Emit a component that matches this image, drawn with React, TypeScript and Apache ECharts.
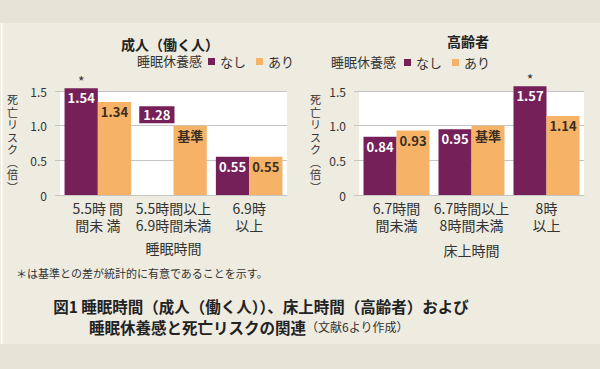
import React, { useEffect, useRef } from "react";
import * as echarts from "echarts";

// ---- data ----
const adultCategories = ["5.5時 間\n間未 満", "5.5時間以上\n6.9時間未満", "6.9時\n以上"];
const elderlyCategories = ["6.7時間\n間未満", "6.7時間以上\n8時間未満", "8時\n以上"];
const seriesNames = ["なし", "あり"];
const adultNashi = [1.54, 1.28, 0.55];
const adultAri = [1.34, 1.0, 0.55];
const elderlyNashi = [0.84, 0.95, 1.57];
const elderlyAri = [0.93, 1.0, 1.14];
const adultNashiBarHidden = [false, true, false];
const adultSignificant = [true, false, false];
const elderlySignificant = [false, false, true];
const referenceIndex = 1; // 「あり」 of the middle group is the reference (基準)
const yMax = 1.5;
const yInterval = 0.5;

const PURPLE = "#76205a";
const ORANGE = "#f6b266";
const FONT = "'Noto Sans CJK JP', 'Noto Sans', sans-serif";
const TEXT = "#333333";
const GRID_LINE = "#c4c4c4";

function makeAxes(idx: number, cats: string[], name: string, left: number, width: number, nameGap: number) {
  const grid = {
    left,
    width,
    top: 91,
    height: 104,
    show: true,
    backgroundColor: "#ffffff",
    borderWidth: 0,
  };
  const xAxis = {
    type: "category",
    gridIndex: idx,
    data: cats,
    name,
    nameLocation: "middle",
    nameGap,
    nameTextStyle: { fontSize: 14, color: TEXT, fontFamily: FONT },
    axisLine: { lineStyle: { color: GRID_LINE } },
    axisTick: { show: false },
    axisLabel: { interval: 0, fontSize: 14, lineHeight: 17, color: TEXT, margin: 4, fontFamily: FONT },
  };
  const yAxis = {
    type: "value",
    gridIndex: idx,
    min: 0,
    max: yMax,
    interval: yInterval,
    name: "死\n亡\nリ\nス\nク\n︵\n倍\n︶",
    nameLocation: "middle",
    nameRotate: 0,
    nameGap: idx === 0 ? 42 : 38,
    nameTextStyle: { fontSize: 11, lineHeight: 12.5, color: TEXT, fontFamily: FONT },
    axisLine: { show: false },
    axisTick: { show: true, length: 5, lineStyle: { color: GRID_LINE } },
    axisLabel: {
      fontSize: 12,
      color: TEXT,
      margin: 13,
      fontFamily: FONT,
      formatter: (v: number) => (v === 0 ? "0" : v.toFixed(1)),
    },
    splitLine: { lineStyle: { color: GRID_LINE } },
  };
  return { grid, xAxis, yAxis };
}

function valueLabel(color: string) {
  return {
    show: true,
    position: "insideTop",
    distance: 3,
    color,
    fontSize: 13,
    fontWeight: "bold",
    fontFamily: FONT,
    formatter: (p: any) => Number(p.value).toFixed(2),
  };
}

function barSeries(idx: number, nashi: number[], ari: number[], sig: boolean[], hidden: boolean[]) {
  const stack = "s" + idx;
  const common = {
    type: "bar",
    xAxisIndex: idx,
    yAxisIndex: idx,
    barGap: "0%",
    barCategoryGap: "12%",
    clip: false,
  };
  return [
    {
      ...common,
      name: seriesNames[0],
      stack,
      itemStyle: { color: PURPLE },
      label: valueLabel("#ffffff"),
      data: nashi.map((v, i) =>
        hidden[i]
          ? {
              value: v,
              itemStyle: { color: "rgba(0,0,0,0)" },
              label: { backgroundColor: PURPLE, padding: [2, 4], distance: 0 },
            }
          : v
      ),
    },
    {
      ...common,
      name: "有意",
      stack,
      itemStyle: { color: PURPLE },
      label: {
        show: true,
        position: "top",
        distance: 0,
        color: TEXT,
        fontSize: 14,
        fontFamily: FONT,
        formatter: "*",
      },
      data: sig.map((s) => (s ? 0 : "-")),
    },
    {
      ...common,
      name: seriesNames[1],
      itemStyle: { color: ORANGE },
      label: valueLabel("#3a2e22"),
      data: ari.map((v, i) =>
        i === referenceIndex ? { value: v, label: { formatter: "基準" } } : v
      ),
    },
  ];
}

export default function App() {
  const ref = useRef<HTMLDivElement>(null);
  useEffect(() => {
    if (!ref.current) return;
    const chart = echarts.init(ref.current, null, { renderer: "svg" });
    const a = makeAxes(0, adultCategories, "睡眠時間", 60, 227, 46);
    const e = makeAxes(1, elderlyCategories, "床上時間", 359, 225, 48);
    const legendCommon = {
      data: seriesNames,
      icon: "rect",
      itemWidth: 7,
      itemHeight: 7,
      itemGap: 10,
      padding: 0,
      top: 55,
      textStyle: { fontSize: 13, color: TEXT, fontFamily: FONT },
    };
    chart.setOption({
      animation: false,
      backgroundColor: "#eeebe1",
      textStyle: { fontFamily: FONT },
      title: [
        { text: "成人（働く人）", left: 170, textAlign: "center", top: 37, padding: 0,
          textStyle: { fontSize: 14, fontWeight: "bold", color: "#222", fontFamily: FONT } },
        { text: "高齢者", left: 468, textAlign: "center", top: 34, padding: 0,
          textStyle: { fontSize: 14, fontWeight: "bold", color: "#222", fontFamily: FONT } },
        { text: "睡眠休養感", left: 137, top: 54, padding: 0,
          textStyle: { fontSize: 13, fontWeight: "normal", color: TEXT, fontFamily: FONT } },
        { text: "睡眠休養感", left: 331, top: 55, padding: 0,
          textStyle: { fontSize: 13, fontWeight: "normal", color: TEXT, fontFamily: FONT } },
        { text: "＊は基準との差が統計的に有意であることを示す。", left: 16, top: 267, padding: 0,
          textStyle: { fontSize: 11, fontWeight: "normal", color: TEXT, fontFamily: FONT } },
        { text: "図1 睡眠時間（成人（働く人））、床上時間（高齢者）および", left: 261, textAlign: "center", top: 298, padding: 0,
          textStyle: { fontSize: 15.5, fontWeight: "bold", color: "#222", fontFamily: FONT } },
        {
          text: "{b|睡眠休養感と死亡リスクの関連}{n|（文献6より作成）}",
          left: 89,
          top: 319,
          padding: 0,
          textStyle: {
            fontFamily: FONT,
            rich: {
              b: { fontSize: 15.5, fontWeight: "bold", color: "#222", fontFamily: FONT },
              n: { fontSize: 12, fontWeight: "normal", color: TEXT, fontFamily: FONT },
            },
          },
        },
      ],
      legend: [
        { ...legendCommon, left: 208 },
        { ...legendCommon, left: 404, top: 56 },
      ],
      graphic: [
        { type: "rect", shape: { x: 0, y: 0, width: 600, height: 23 }, style: { fill: "#e7e3d6" }, silent: true },
        { type: "rect", shape: { x: 0, y: 344, width: 600, height: 25 }, style: { fill: "#e7e3d6" }, silent: true },
        { type: "rect", shape: { x: 1, y: 23, width: 1.5, height: 321 }, style: { fill: "#ffffff" }, silent: true },
      ],
      grid: [a.grid, e.grid],
      xAxis: [a.xAxis, e.xAxis],
      yAxis: [a.yAxis, e.yAxis],
      series: [
        ...barSeries(0, adultNashi, adultAri, adultSignificant, adultNashiBarHidden),
        ...barSeries(1, elderlyNashi, elderlyAri, elderlySignificant, [false, false, false]),
      ],
    });
    return () => chart.dispose();
  }, []);
  return (
    <div
      ref={ref}
      style={{ position: "fixed", left: 0, top: 0, width: 600, height: 369 }}
    />
  );
}
